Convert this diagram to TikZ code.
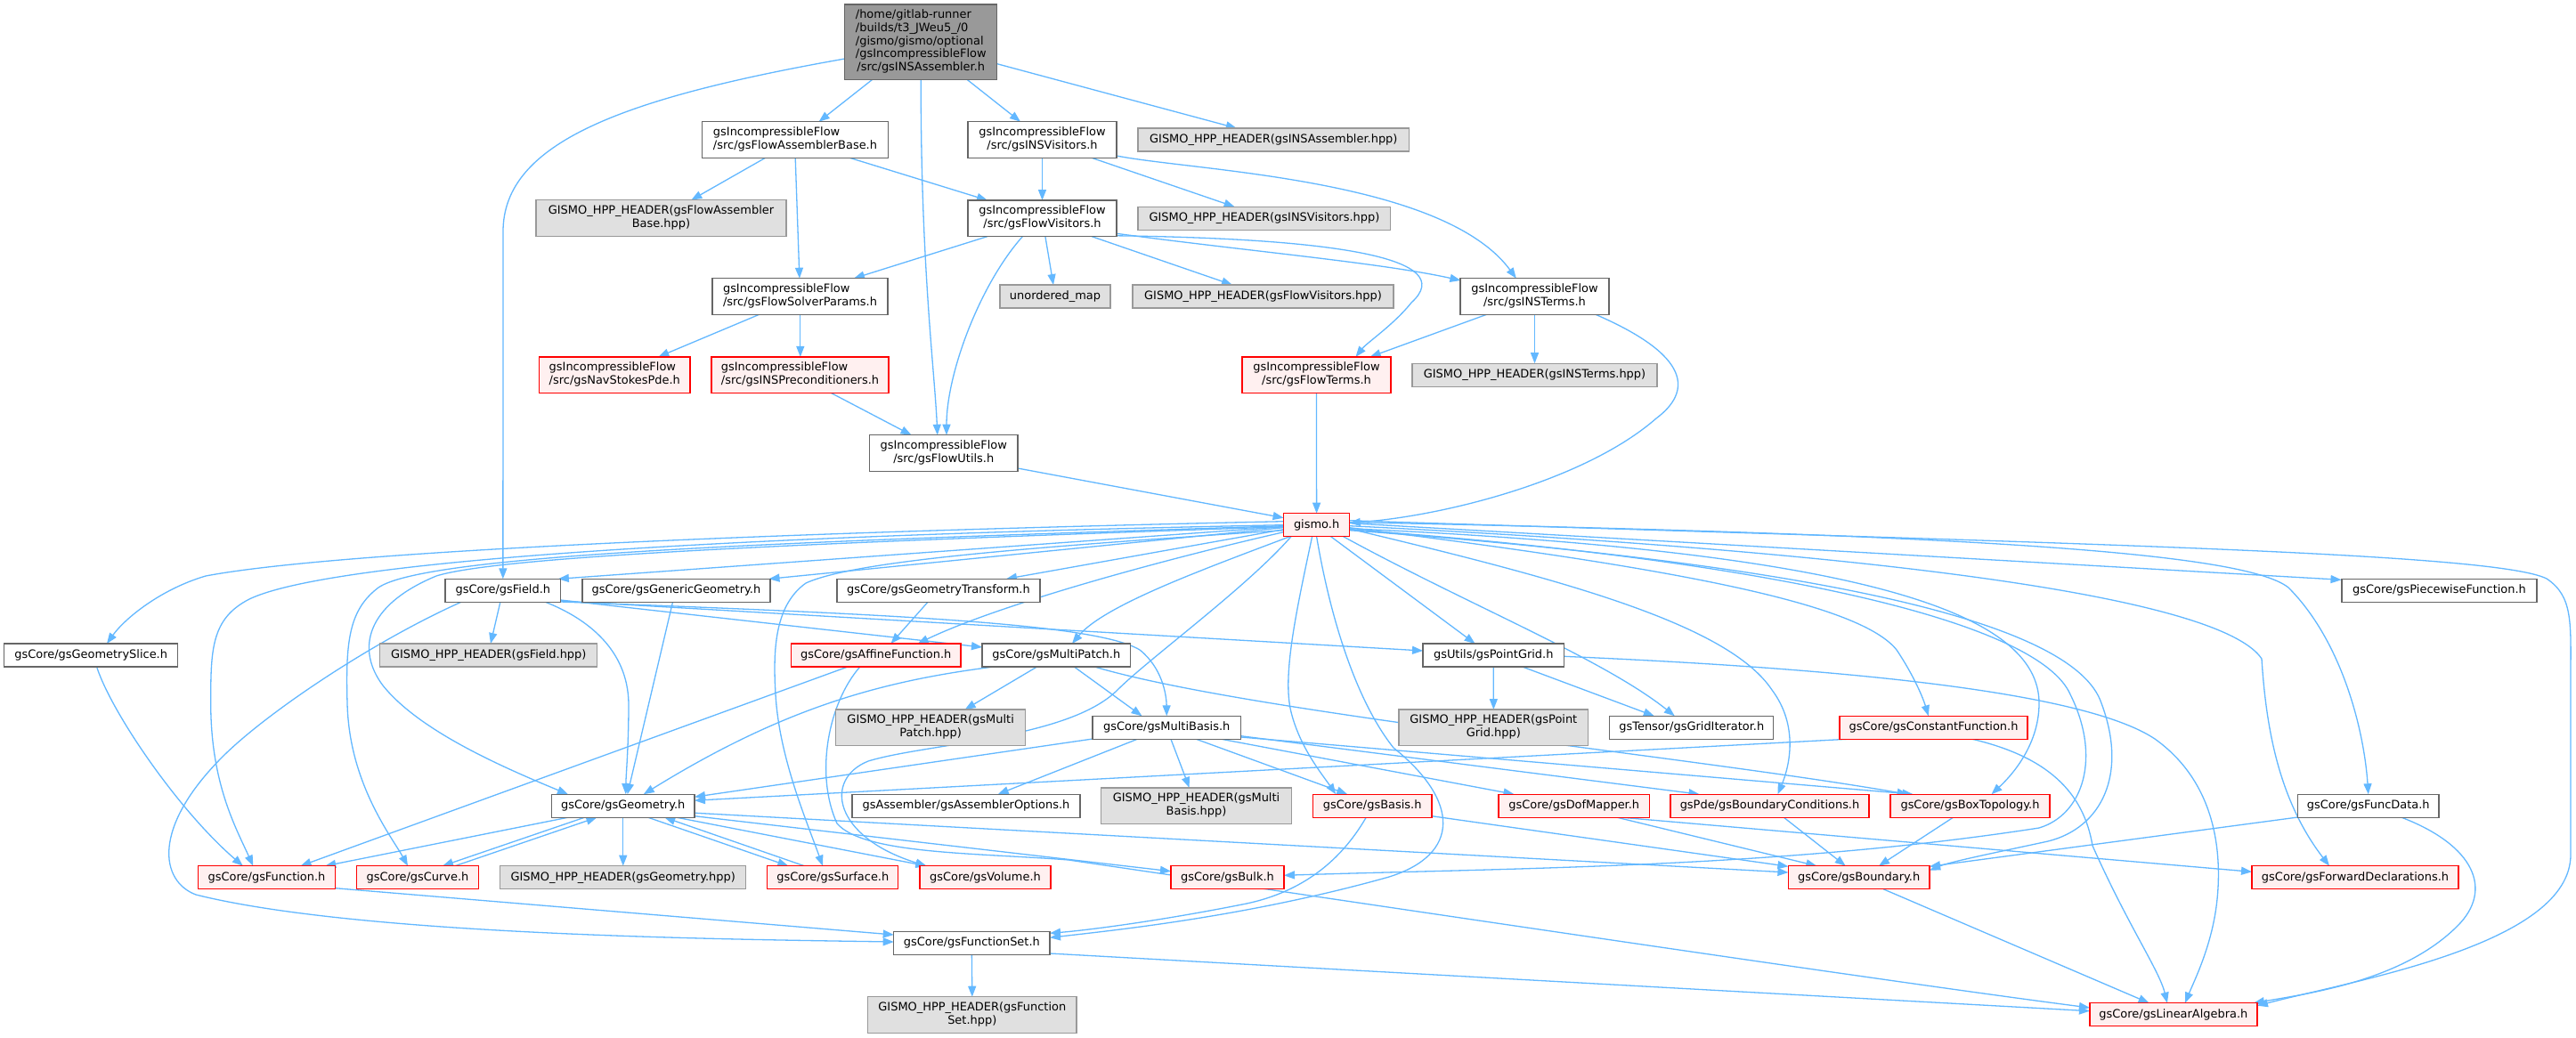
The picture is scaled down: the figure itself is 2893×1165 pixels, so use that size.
\documentclass[tikz,border=0pt]{standalone}
\usepackage{fontspec}
\setmainfont{DejaVu Sans}
\usetikzlibrary{arrows.meta,calc}
\definecolor{edgec}{HTML}{63B8FF}
\definecolor{bdgray}{HTML}{666666}
\definecolor{bdlight}{HTML}{999999}
\definecolor{fillgray}{HTML}{E0E0E0}
\definecolor{fillred}{HTML}{FFF0F0}
\definecolor{fillroot}{HTML}{999999}
\definecolor{bdred}{HTML}{FF0000}
\pgfdeclarelayer{bglayer}
\pgfdeclarelayer{edgelayer}
\pgfsetlayers{bglayer,edgelayer,main}
\newcommand\mknode[6]{\node[#1,minimum width=#4pt,minimum height=#5pt] (#2) at (#3) {#6};}
\newcommand\twoln[2]{\begin{tabular}{@{}l@{}}#1\\\multicolumn{1}{@{}c@{}}{#2}\end{tabular}}
\newcommand\sedge[6]{\draw[edgeln] ($(#1.center)+(#2,#3)$) -- ($(#4.center)+(#5,#6)$);}
\tikzset{
 nd/.style={draw,line width=1.3pt,inner sep=0pt,outer sep=0pt,anchor=center,font=\fontsize{12.95}{14.7}\selectfont,text=black},
 plainn/.style={nd,draw=bdgray,fill=white},
 grayn/.style={nd,draw=bdlight,fill=fillgray},
 redn/.style={nd,draw=bdred,fill=fillred},
 rootn/.style={nd,draw=bdgray,fill=fillroot},
 edgeln/.style={draw=edgec,line width=1.3pt,-{Triangle[length=12pt,width=9pt]}},
}
\begin{document}
\begin{tikzpicture}[x=1pt,y=-1pt]
\useasboundingbox (0,0) rectangle (2893,1165);
\begin{pgfonlayer}{bglayer}
\fill[white] (0,0) rectangle (2893,1165);
\end{pgfonlayer}
% ---------- nodes ----------
\mknode{rootn}{main}{1034.25,47.15}{171.1}{84.3}{\begin{tabular}{@{}l@{}}/home/gitlab-runner\\/builds/t3\_JWeu5\_/0\\/gismo/gismo/optional\\/gsIncompressibleFlow\\\multicolumn{1}{@{}c@{}}{/src/gsINSAssembler.h}\end{tabular}}
\mknode{plainn}{fab}{893,157}{208.5}{40.6}{\twoln{gsIncompressibleFlow}{/src/gsFlowAssemblerBase.h}}
\mknode{plainn}{insv}{1170.5,157}{167}{40.6}{\twoln{gsIncompressibleFlow}{/src/gsINSVisitors.h}}
\mknode{grayn}{hINSA}{1430.3,157}{304.6}{26}{GISMO\_HPP\_HEADER(gsINSAssembler.hpp)}
\mknode{grayn}{hFAB}{742.5,245}{281}{40.6}{\twoln{GISMO\_HPP\_HEADER(gsFlowAssembler}{Base.hpp)}}
\mknode{plainn}{flowv}{1170.5,245.3}{167}{40.6}{\twoln{gsIncompressibleFlow}{/src/gsFlowVisitors.h}}
\mknode{grayn}{hINSV}{1419.9,245.3}{283.8}{26}{GISMO\_HPP\_HEADER(gsINSVisitors.hpp)}
\mknode{plainn}{fsp}{898.5,333}{197}{40.6}{\twoln{gsIncompressibleFlow}{/src/gsFlowSolverParams.h}}
\mknode{grayn}{umap}{1185,333}{124}{26}{unordered\_map}
\mknode{grayn}{hFV}{1418.5,333}{293}{26}{GISMO\_HPP\_HEADER(gsFlowVisitors.hpp)}
\mknode{plainn}{inst}{1723.5,333}{167}{40.6}{\twoln{gsIncompressibleFlow}{/src/gsINSTerms.h}}
\mknode{redn}{nsp}{690.3,421.2}{169.4}{40.6}{\twoln{gsIncompressibleFlow}{/src/gsNavStokesPde.h}}
\mknode{redn}{insp}{898.5,421.2}{199}{40.6}{\twoln{gsIncompressibleFlow}{/src/gsINSPreconditioners.h}}
\mknode{redn}{ft}{1478.5,421.2}{167}{40.6}{\twoln{gsIncompressibleFlow}{/src/gsFlowTerms.h}}
\mknode{grayn}{hINST}{1723.5,421.2}{275}{26}{GISMO\_HPP\_HEADER(gsINSTerms.hpp)}
\mknode{plainn}{fu}{1059.75,509}{166.5}{40.6}{\twoln{gsIncompressibleFlow}{/src/gsFlowUtils.h}}
\mknode{redn}{gismo}{1478.6,589.7}{74}{26}{gismo.h}
\mknode{plainn}{field}{564.85,663.3}{129.7}{26}{gsCore/gsField.h}
\mknode{plainn}{gengeo}{759.5,663.3}{211}{26}{gsCore/gsGenericGeometry.h}
\mknode{plainn}{geotr}{1054,663.3}{228}{26}{gsCore/gsGeometryTransform.h}
\mknode{plainn}{piece}{2739.5,663.3}{219}{26}{gsCore/gsPiecewiseFunction.h}
\mknode{plainn}{slice}{102.2,736}{195}{26}{gsCore/gsGeometrySlice.h}
\mknode{grayn}{hField}{548.75,736}{244}{26}{GISMO\_HPP\_HEADER(gsField.hpp)}
\mknode{redn}{affine}{983.8,736}{190.4}{26}{gsCore/gsAffineFunction.h}
\mknode{plainn}{mpatch}{1186.3,736}{166.6}{26}{gsCore/gsMultiPatch.h}
\mknode{plainn}{pgrid}{1677.25,736}{158.5}{26}{gsUtils/gsPointGrid.h}
\mknode{grayn}{hMP}{1045.15,817.3}{213}{40.6}{\twoln{GISMO\_HPP\_HEADER(gsMulti}{Patch.hpp)}}
\mknode{plainn}{mbasis}{1310.25,817.3}{166.5}{26}{gsCore/gsMultiBasis.h}
\mknode{grayn}{hPG}{1677.35,817.3}{212.7}{40.6}{\twoln{GISMO\_HPP\_HEADER(gsPoint}{Grid.hpp)}}
\mknode{plainn}{griditer}{1899.8,817.3}{184}{26}{gsTensor/gsGridIterator.h}
\mknode{redn}{constf}{2171.5,817.3}{211}{26}{gsCore/gsConstantFunction.h}
\mknode{plainn}{geom}{699.75,905.2}{160.5}{26}{gsCore/gsGeometry.h}
\mknode{plainn}{asmopt}{1085,905.2}{256}{26}{gsAssembler/gsAssemblerOptions.h}
\mknode{grayn}{hMB}{1343.55,905.2}{213.7}{40.6}{\twoln{GISMO\_HPP\_HEADER(gsMulti}{Basis.hpp)}}
\mknode{redn}{basis}{1541.2,905.2}{133.6}{26}{gsCore/gsBasis.h}
\mknode{redn}{dof}{1767.8,905.2}{169.6}{26}{gsCore/gsDofMapper.h}
\mknode{redn}{bc}{1987.5,905.2}{223}{26}{gsPde/gsBoundaryConditions.h}
\mknode{redn}{boxt}{2212.5,905.2}{179}{26}{gsCore/gsBoxTopology.h}
\mknode{plainn}{funcdata}{2659.75,905.2}{158.5}{26}{gsCore/gsFuncData.h}
\mknode{redn}{func}{299.55,985.7}{153.5}{26}{gsCore/gsFunction.h}
\mknode{redn}{curve}{469,985.7}{136.4}{26}{gsCore/gsCurve.h}
\mknode{grayn}{hGeo}{699.75,985.7}{276}{26}{GISMO\_HPP\_HEADER(gsGeometry.hpp)}
\mknode{redn}{surf}{935.3,985.7}{147}{26}{gsCore/gsSurface.h}
\mknode{redn}{vol}{1106.45,985.7}{147}{26}{gsCore/gsVolume.h}
\mknode{redn}{bulk}{1378.45,985.7}{127}{26}{gsCore/gsBulk.h}
\mknode{redn}{bdry}{2087.7,985.7}{158.6}{26}{gsCore/gsBoundary.h}
\mknode{redn}{fwd}{2645,985.7}{232}{26}{gsCore/gsForwardDeclarations.h}
\mknode{plainn}{fset}{1091.35,1059.3}{175.3}{26}{gsCore/gsFunctionSet.h}
\mknode{grayn}{hFS}{1091.8,1140}{234.4}{40.6}{\twoln{GISMO\_HPP\_HEADER(gsFunction}{Set.hpp)}}
\mknode{redn}{linalg}{2440.9,1139.7}{188}{26}{gsCore/gsLinearAlgebra.h}
% ---------- edges ----------
\begin{pgfonlayer}{edgelayer}
\sedge{main}{-54.5}{42.15}{fab}{26.6}{-20.3}
\sedge{main}{51.75}{42.15}{insv}{-24.5}{-20.3}
\sedge{main}{85.55}{24.55}{hINSA}{-41.5}{-13}
\draw[edgeln] ($(main.center)+(0,42.15)$) .. controls (1034,300) and (1050,420) .. ($(fu.center)+(-7,-20.3)$);
\draw[edgeln] ($(main.center)+(-85.55,18.85)$) .. controls (700,110) and (565,160) .. (565,260) -- ($(field.center)+(0,-13)$);
\sedge{fab}{-33.5}{20.3}{hFAB}{33.8}{-20.3}
\sedge{fab}{0.2}{20.3}{fsp}{-0.6}{-20.3}
\sedge{fab}{61.3}{20.3}{flowv}{-61.5}{-20.3}
\sedge{insv}{0}{20.3}{flowv}{0}{-20.3}
\sedge{insv}{55.5}{20.3}{hINSV}{-33.3}{-13}
\draw[edgeln] ($(insv.center)+(83.5,18)$) .. controls (1340,192) and (1620,200) .. ($(inst.center)+(-20.7,-20.3)$);
\sedge{flowv}{-61.5}{20.3}{fsp}{60.4}{-20.3}
\draw[edgeln] ($(flowv.center)+(-22.1,20.3)$) .. controls (1100,320) and (1063,420) .. ($(fu.center)+(3.25,-20.3)$);
\sedge{flowv}{3.4}{20.3}{umap}{-2}{-13}
\sedge{flowv}{55.5}{20.3}{hFV}{-34.5}{-13}
\draw[edgeln] ($(flowv.center)+(83.5,17)$) .. controls (1400,282) and (1550,295) .. ($(inst.center)+(-83.1,-18)$);
\draw[edgeln] ($(flowv.center)+(83.5,19.5)$) .. controls (1500,268) and (1640,290) .. (1585,340) .. controls (1565,365) and (1535,385) .. ($(ft.center)+(44,-20.3)$);
\sedge{fsp}{-45.9}{20.3}{nsp}{49}{-20.3}
\sedge{fsp}{0.3}{20.3}{insp}{0.3}{-20.3}
\sedge{insp}{35}{20.3}{fu}{-36.15}{-20.3}
\sedge{inst}{-54}{20.3}{ft}{60.2}{-20.3}
\sedge{inst}{0}{20.3}{hINST}{0}{-13}
\draw[edgeln] ($(inst.center)+(68.5,20.3)$) .. controls (1900,400) and (1900,440) .. (1860,470) .. controls (1780,540) and (1620,580) .. ($(gismo.center)+(37,-2.4)$);
\sedge{ft}{0}{20.3}{gismo}{0}{-13}
\sedge{fu}{83.25}{17}{gismo}{-37}{-8}
% gismo.h outgoing
\sedge{gismo}{-37}{2}{field}{62}{-13}
\sedge{gismo}{-37}{3}{gengeo}{104}{-13}
\sedge{gismo}{-37}{5}{geotr}{76}{-13}
\draw[edgeln] ($(gismo.center)+(-37,8)$) .. controls (1300,630) and (1120,680) .. ($(affine.center)+(46.8,-13)$);
\draw[edgeln] ($(gismo.center)+(-30,13)$) .. controls (1350,640) and (1240,680) .. ($(mpatch.center)+(17.7,-13)$);
\draw[edgeln] ($(gismo.center)+(-37,-4)$) .. controls (1000,595) and (400,615) .. (231,647) .. controls (180,662) and (140,695) .. ($(slice.center)+(17.8,-13)$);
\draw[edgeln] ($(gismo.center)+(-37,0)$) .. controls (900,600) and (380,625) .. (280,673) .. controls (237,695) and (236.7,730) .. (236.7,790) .. controls (236.7,880) and (265,930) .. ($(func.center)+(-15.25,-13)$);
\draw[edgeln] ($(gismo.center)+(-37,1)$) .. controls (900,608) and (480,622) .. (425,660) .. controls (392,685) and (388,720) .. (390,790) .. controls (392,880) and (440,940) .. ($(curve.center)+(-11,-13)$);
\draw[edgeln] ($(gismo.center)+(-37,2)$) .. controls (900,610) and (560,625) .. (490,647) .. controls (410,680) and (400,730) .. (430,770) .. controls (470,820) and (560,860) .. ($(geom.center)+(-61.75,-13)$);
\draw[edgeln] ($(gismo.center)+(-37,6)$) .. controls (1150,615) and (960,630) .. (905,655) .. controls (870,680) and (868,730) .. (871,780) .. controls (875,850) and (905,920) .. ($(surf.center)+(-11.3,-13)$);
\draw[edgeln] ($(gismo.center)+(-28.6,13)$) .. controls (1400,660) and (1290,740) .. (1255,775) .. controls (1200,830) and (1040,835) .. (975,855) .. controls (925,875) and (935,940) .. ($(vol.center)+(-66,-13)$);
\draw[edgeln] ($(gismo.center)+(-5,13)$) .. controls (1455,690) and (1440,760) .. (1450,800) .. controls (1460,840) and (1485,870) .. ($(basis.center)+(-41,-13)$);
\draw[edgeln] ($(gismo.center)+(0,13)$) .. controls (1495,700) and (1525,790) .. (1565,840) .. controls (1640,900) and (1640,960) .. (1560,985) .. controls (1400,1030) and (1250,1045) .. ($(fset.center)+(87.65,-6)$);
\sedge{gismo}{16}{13}{pgrid}{-20.65}{-13}
\draw[edgeln] ($(gismo.center)+(30,13)$) .. controls (1650,680) and (1800,740) .. ($(griditer.center)+(-19,-13)$);
\draw[edgeln] ($(gismo.center)+(37,4.3)$) .. controls (1750,650) and (1940,700) .. (1990,775) .. controls (2020,815) and (2010,860) .. ($(bc.center)+(9,-13)$);
\sedge{gismo}{37}{-2}{piece}{-110}{-12}
\draw[edgeln] ($(gismo.center)+(37,3)$) .. controls (1900,640) and (2090,680) .. (2130,730) .. controls (2150,760) and (2160,785) .. ($(constf.center)+(-5.7,-13)$);
\draw[edgeln] ($(gismo.center)+(37,4)$) .. controls (2100,620) and (2290,690) .. (2290,790) .. controls (2290,840) and (2255,875) .. ($(boxt.center)+(24,-13)$);
\draw[edgeln] ($(gismo.center)+(37,5)$) .. controls (2000,630) and (2290,700) .. (2325,780) .. controls (2360,850) and (2340,915) .. (2290,930) .. controls (2000,975) and (1700,975) .. ($(bulk.center)+(63.5,-2.4)$);
\draw[edgeln] ($(gismo.center)+(37,6)$) .. controls (2050,635) and (2330,700) .. (2360,790) .. controls (2390,870) and (2360,930) .. (2300,945) .. controls (2240,958) and (2190,968) .. ($(bdry.center)+(79.3,-8)$);
\draw[edgeln] ($(gismo.center)+(37,1)$) .. controls (2200,625) and (2500,680) .. (2540,740) .. controls (2545,820) and (2560,900) .. ($(fwd.center)+(-29,-13)$);
\draw[edgeln] ($(gismo.center)+(37,-3)$) .. controls (2200,600) and (2520,620) .. (2570,660) .. controls (2630,720) and (2655,820) .. ($(funcdata.center)+(0,-13)$);
\draw[edgeln] ($(gismo.center)+(37,-5)$) .. controls (2300,610) and (2800,620) .. (2860,650) .. controls (2890,670) and (2887,700) .. (2887,760) -- (2887,960) .. controls (2887,1060) and (2650,1100) .. ($(linalg.center)+(94,-10)$);
% gsField
\sedge{field}{-3}{13}{hField}{2.25}{-13}
\draw[edgeln] ($(field.center)+(47.7,13)$) .. controls (660,695) and (705,730) .. (706,790) .. controls (706,840) and (703,870) .. ($(geom.center)+(3,-13)$);
\draw[edgeln] ($(field.center)+(-47,13)$) .. controls (420,720) and (300,800) .. (250,850) .. controls (170,930) and (180,990) .. (220,1005) .. controls (400,1050) and (800,1055) .. ($(fset.center)+(-87.65,-1.3)$);
\sedge{field}{64.85}{10.7}{mpatch}{-83.3}{-9}
\sedge{field}{64.85}{11.7}{pgrid}{-79.25}{-5}
\draw[edgeln] ($(field.center)+(64.85,12.7)$) .. controls (1000,690) and (1230,700) .. (1280,730) .. controls (1305,750) and (1310,780) .. ($(mbasis.center)+(0,-13)$);
% others
\sedge{gengeo}{-4}{13}{geom}{4.9}{-13}
\sedge{geotr}{-12}{13}{affine}{16.7}{-13}
\sedge{affine}{-31.8}{13}{func}{38}{-13}
\draw[edgeln] ($(affine.center)+(-18,13)$) .. controls (930,790) and (915,870) .. (940,925) .. controls (970,960) and (1100,958) .. (1200,966) .. controls (1500,1010) and (2100,1100) .. ($(linalg.center)+(-94,-7.7)$);
\draw[edgeln] ($(mpatch.center)+(-70.3,13)$) .. controls (990,765) and (880,795) .. ($(geom.center)+(23,-13)$);
\sedge{mpatch}{-21.7}{13}{hMP}{38.5}{-20.3}
\sedge{mpatch}{20}{13}{mbasis}{-27.75}{-13}
\draw[edgeln] ($(mpatch.center)+(43,13)$) .. controls (1400,800) and (1900,850) .. ($(boxt.center)+(-70,-13)$);
\sedge{mbasis}{-83.25}{12.7}{geom}{80.25}{-10}
\sedge{mbasis}{-32.3}{12.7}{asmopt}{35.7}{-13}
\sedge{mbasis}{4.6}{12.7}{hMB}{-7.85}{-20.3}
\sedge{mbasis}{32.4}{12.7}{basis}{-28}{-13}
\sedge{mbasis}{60}{12.7}{dof}{-67.3}{-13}
\sedge{mbasis}{83.25}{9.4}{bc}{-79}{-13}
\sedge{mbasis}{83.25}{10.7}{boxt}{-64}{-13}
\sedge{constf}{-91.9}{12.7}{geom}{80.25}{-6}
\draw[edgeln] ($(constf.center)+(42.3,12.7)$) .. controls (2300,850) and (2340,890) .. (2350,950) .. controls (2390,1040) and (2425,1090) .. ($(linalg.center)+(-7,-13)$);
\sedge{pgrid}{0}{13}{hPG}{0}{-20.3}
\sedge{pgrid}{32.5}{13}{griditer}{-42}{-13}
\draw[edgeln] ($(pgrid.center)+(79.25,1.3)$) .. controls (2000,748) and (2330,770) .. (2420,830) .. controls (2490,880) and (2495,960) .. (2490,1010) .. controls (2485,1060) and (2465,1100) .. ($(linalg.center)+(13,-13)$);
\sedge{geom}{-61.75}{13}{func}{65.65}{-13}
\sedge{geom}{-43.25}{13}{curve}{28}{-13}
\sedge{curve}{42}{-13}{geom}{-29.35}{13}
\sedge{geom}{0}{13}{hGeo}{0}{-13}
\sedge{geom}{28}{13}{surf}{-50}{-13}
\sedge{surf}{-32}{-13}{geom}{46.5}{13}
\sedge{geom}{60}{13}{vol}{-66}{-13}
\sedge{geom}{80.25}{11.5}{bulk}{-63.5}{-7}
\sedge{geom}{80.25}{8}{bdry}{-79.3}{-5.7}
\draw[edgeln] ($(slice.center)+(6.4,13)$) .. controls (125,800) and (200,910) .. ($(func.center)+(-26.75,-13)$);
\sedge{func}{77}{12}{fset}{-87.65}{-9.3}
\sedge{fset}{0}{13}{hFS}{0}{-20.3}
\sedge{fset}{87.65}{11.7}{linalg}{-94}{-4}
\draw[edgeln] ($(basis.center)+(-7,13)$) .. controls (1510,960) and (1470,1000) .. (1400,1015) .. controls (1300,1035) and (1220,1045) .. ($(fset.center)+(87.65,-11)$);
\sedge{basis}{66.8}{11.5}{bdry}{-79.3}{-12.4}
\sedge{dof}{48.2}{13}{bdry}{-47.4}{-13}
\sedge{dof}{53}{13}{fwd}{-116}{-6.4}
\sedge{bc}{15.8}{13}{bdry}{-15}{-13}
\sedge{boxt}{-19}{13}{bdry}{22.3}{-13}
\sedge{funcdata}{-79.25}{12.8}{bdry}{79.3}{-12.4}
\draw[edgeln] ($(funcdata.center)+(37.3,13)$) .. controls (2780,950) and (2800,1000) .. (2760,1040) .. controls (2700,1100) and (2600,1115) .. ($(linalg.center)+(90,-13)$);
\sedge{bdry}{27.3}{13}{linalg}{-27.3}{-13}
\end{pgfonlayer}
\end{tikzpicture}
\end{document}
